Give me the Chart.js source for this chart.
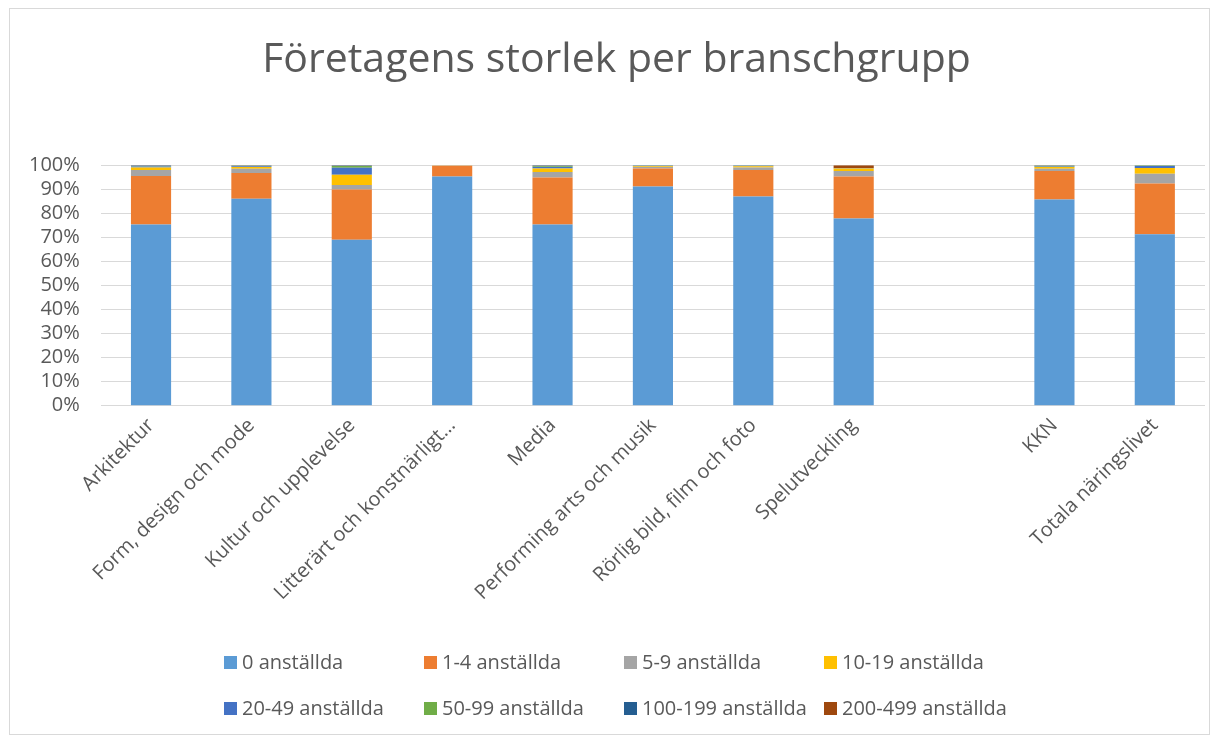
<!DOCTYPE html>
<html>
<head>
<meta charset="UTF-8">
<title>Företagens storlek per branschgrupp</title>
<script src="https://cdn.jsdelivr.net/npm/chart.js"></script>
<style>
    body { margin: 0; background: #fff; }
    /* outer frame like the office chart border */
    #frame {
        position: absolute; left: 9px; top: 8px; width: 1201px; height: 727px;
        border: 1px solid #d9d9d9; box-sizing: border-box;
    }
    #chartBox { position: absolute; left: 0; top: 0; width: 1219px; height: 736px; }
    #legend { position: absolute; left: 0; top: 0; font-family: 'Open Sans', sans-serif; font-size: 20px; color: #595959; }
    .item { position: absolute; white-space: nowrap; line-height: 24px; }
    .item span.box { position: absolute; width: 13px; height: 13px; left: -18px; top: 6px; }
</style>
</head>
<body>
<div id="frame"></div>
<div id="chartBox"><canvas id="sizeChart" width="1219" height="736"></canvas></div>
<div id="legend"></div>

<script>
    // categories (the blank one is the gap before KKN)
    const branscher = ['Arkitektur', 'Form, design och mode', 'Kultur och upplevelse', 'Litterärt och konstnärligt…',
        'Media', 'Performing arts och musik', 'Rörlig bild, film och foto', 'Spelutveckling', '', 'KKN', 'Totala näringslivet'];

    // share of companies per size class, percent
    const anst0      = [75.3, 86.1, 69.0, 95.3, 75.3, 91.1, 87.0, 77.8, null, 85.7, 71.3];
    const anst1_4    = [20.2, 10.7, 20.9,  4.5, 19.6,  7.5, 11.0, 17.5, null, 11.9, 21.1];
    const anst5_9    = [ 2.5,  1.7,  1.9,  0.1,  2.3,  0.7,  1.0,  2.3, null,  0.9,  4.0];
    const anst10_19  = [ 1.0,  0.7,  4.2,  0.05, 1.4,  0.3,  0.6,  1.0, null,  0.7,  2.4];
    const anst20_49  = [ 0.5,  0.4,  2.9,  0.05, 0.6,  0.2,  0.2,  0.1, null,  0.3,  0.9];
    const anst50_99  = [ 0.2,  0.2,  0.8,  0.0,  0.4,  0.1,  0.1,  0.05, null, 0.3,  0.2];
    const anst100_199= [ 0.2,  0.1,  0.2,  0.0,  0.3,  0.05, 0.05, 0.05, null, 0.1,  0.05];
    const anst200_499= [ 0.1,  0.1,  0.1,  0.0,  0.1,  0.05, 0.05, 1.2, null,  0.1,  0.05];

    const seriesNames = ['0 anställda', '1-4 anställda', '5-9 anställda', '10-19 anställda',
        '20-49 anställda', '50-99 anställda', '100-199 anställda', '200-499 anställda'];
    const seriesData = [anst0, anst1_4, anst5_9, anst10_19, anst20_49, anst50_99, anst100_199, anst200_499];
    const colors = ['#5B9BD5', '#ED7D31', '#A5A5A5', '#FFC000', '#4472C4', '#70AD47', '#255E91', '#9E480E'];

    const yTicks = [0, 10, 20, 30, 40, 50, 60, 70, 80, 90, 100];

    const textColor = '#595959';
    const fontFam = "'Open Sans', sans-serif";

    const datasets = seriesNames.map((name, i) => ({
        label: name,
        data: seriesData[i],
        backgroundColor: colors[i],
        borderWidth: 0,
        barPercentage: 0.4,
        categoryPercentage: 1.0
    }));

    // the title sits centred on the whole frame, a bit right of the layout centre
    const shiftTitle = {
        id: 'shiftTitle',
        afterLayout(chart) {
            if (chart.titleBlock) {
                chart.titleBlock.left += 10;
                chart.titleBlock.right += 10;
            }
        }
    };

    const ctx = document.getElementById('sizeChart').getContext('2d');
    const sizeChart = new Chart(ctx, {
        type: 'bar',
        data: { labels: branscher, datasets: datasets },
        plugins: [shiftTitle],
        options: {
            responsive: false,
            animation: false,
            maintainAspectRatio: false,
            layout: { padding: { left: 8, right: 14, top: 0, bottom: 131 } },
            plugins: {
                legend: { display: false },
                tooltip: { enabled: false },
                title: {
                    display: true,
                    text: 'Företagens storlek per branschgrupp',
                    color: textColor,
                    font: { family: fontFam, size: 41, weight: 'normal' },
                    padding: { top: 36, bottom: 80 }
                }
            },
            scales: {
                x: {
                    stacked: true,
                    grid: { display: false },
                    border: { display: false },
                    ticks: {
                        color: textColor,
                        font: { family: fontFam, size: 20 },
                        maxRotation: 45, minRotation: 45,
                        autoSkip: false,
                        padding: 0
                    }
                },
                y: {
                    stacked: true,
                    min: 0, max: 100,
                    afterBuildTicks: axis => { axis.ticks = yTicks.map(v => ({ value: v })); },
                    grid: { color: '#d9d9d9', lineWidth: 1, drawTicks: false },
                    border: { display: false },
                    ticks: {
                        color: textColor,
                        font: { family: fontFam, size: 20 },
                        padding: 21,
                        autoSkip: false,
                        callback: v => v + '%'
                    }
                }
            }
        }
    });

    // legend as real text, laid out in two rows of four like the original
    const legendBox = document.getElementById('legend');
    const colX = [242, 442, 642, 842];
    const rowY = [650, 696];
    seriesNames.forEach((name, i) => {
        const item = document.createElement('div');
        item.className = 'item';
        item.style.left = colX[i % 4] + 'px';
        item.style.top = rowY[Math.floor(i / 4)] + 'px';
        item.innerHTML = '<span class="box" style="background:' + colors[i] + '"></span>' + name;
        legendBox.appendChild(item);
    });
</script>
</body>
</html>
